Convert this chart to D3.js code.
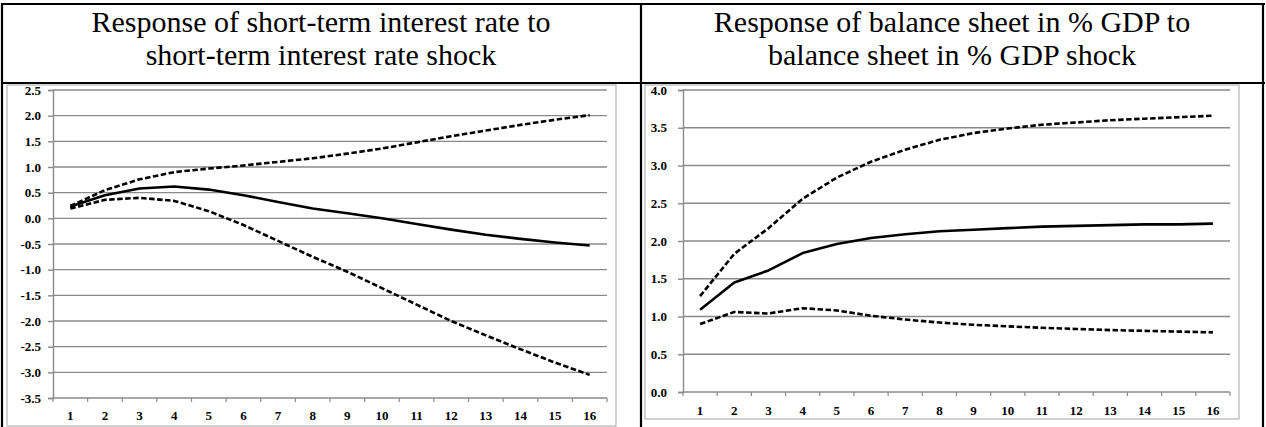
<!DOCTYPE html>
<html>
<head>
<meta charset="utf-8">
<script src="https://cdn.jsdelivr.net/npm/d3@7/dist/d3.min.js"></script>
<style>
  body { margin: 0; background: #fff; }
  svg { display: block; }
</style>
</head>
<body>
<svg id="chart" width="1266" height="427"></svg>
<script>
// Horizon (quarters after the shock)
const periods = [1, 2, 3, 4, 5, 6, 7, 8, 9, 10, 11, 12, 13, 14, 15, 16];

// Short-term interest rate response to its own shock
const rateMedian = [0.23, 0.45, 0.58, 0.62, 0.56, 0.45, 0.32, 0.19, 0.10, 0.00, -0.11, -0.22, -0.32, -0.40, -0.47, -0.53];
const rateUpper  = [0.24, 0.55, 0.76, 0.90, 0.97, 1.03, 1.10, 1.17, 1.26, 1.36, 1.48, 1.60, 1.71, 1.82, 1.92, 2.01];
const rateLower  = [0.19, 0.36, 0.40, 0.34, 0.14, -0.13, -0.44, -0.75, -1.04, -1.36, -1.68, -2.00, -2.28, -2.55, -2.81, -3.05];
const rateTicks  = [-3.5, -3.0, -2.5, -2.0, -1.5, -1.0, -0.5, 0.0, 0.5, 1.0, 1.5, 2.0, 2.5];

// Balance sheet (% of GDP) response to its own shock
const bsMedian = [1.09, 1.45, 1.61, 1.84, 1.96, 2.04, 2.09, 2.13, 2.15, 2.17, 2.19, 2.20, 2.21, 2.22, 2.22, 2.23];
const bsUpper  = [1.27, 1.83, 2.17, 2.56, 2.84, 3.05, 3.21, 3.34, 3.43, 3.49, 3.54, 3.57, 3.60, 3.62, 3.64, 3.66];
const bsLower  = [0.90, 1.06, 1.04, 1.11, 1.08, 1.01, 0.96, 0.92, 0.89, 0.87, 0.85, 0.835, 0.82, 0.81, 0.80, 0.79];
const bsTicks  = [0.0, 0.5, 1.0, 1.5, 2.0, 2.5, 3.0, 3.5, 4.0];

const titles = [
  ["Response of short-term interest rate to", "short-term interest rate shock"],
  ["Response of balance sheet in % GDP to", "balance sheet in % GDP shock"]
];

const svg = d3.select("#chart");
const serif = "'Liberation Serif', 'Times New Roman', serif";

// Table frame: title row and two chart cells
const frame = svg.append("g").attr("stroke", "#000").attr("stroke-width", 2.2).attr("fill", "none");
frame.append("line").attr("x1", 1).attr("x2", 1265).attr("y1", 4).attr("y2", 4);
frame.append("line").attr("x1", 1).attr("x2", 1265).attr("y1", 83).attr("y2", 83);
frame.append("line").attr("x1", 2).attr("x2", 2).attr("y1", 3).attr("y2", 427);
frame.append("line").attr("x1", 641).attr("x2", 641).attr("y1", 3).attr("y2", 427);
frame.append("line").attr("x1", 1263).attr("x2", 1263).attr("y1", 3).attr("y2", 427);

// Titles
const titleCenters = [321, 952];
titles.forEach((lines, i) => {
  const t = svg.append("text")
    .attr("text-anchor", "middle")
    .attr("font-family", serif)
    .attr("font-size", 30)
    .attr("fill", "#000");
  lines.forEach((s, j) => {
    t.append("tspan").attr("x", titleCenters[i]).attr("y", 32 + j * 33).text(s);
  });
});

function drawPanel(cfg) {
  const g = svg.append("g");

  // light outer chart border
  g.append("rect")
    .attr("x", cfg.box[0]).attr("y", cfg.box[1])
    .attr("width", cfg.box[2]).attr("height", cfg.box[3])
    .attr("fill", "#fff").attr("stroke", "#b4b4b4").attr("stroke-width", 1.2);

  const x = d3.scaleBand().domain(periods).range([cfg.x0, cfg.x1]).paddingInner(0).paddingOuter(0);
  const y = d3.scaleLinear().domain(cfg.domain).range([cfg.yBot, cfg.yTop]);

  // horizontal gridlines
  g.append("g")
    .selectAll("line")
    .data(cfg.ticks.filter(v => v !== cfg.domain[0]))
    .join("line")
    .attr("x1", cfg.x0).attr("x2", cfg.x1)
    .attr("y1", d => y(d)).attr("y2", d => y(d))
    .attr("stroke", "#8a8a8a").attr("stroke-width", 1.4);

  // y axis
  const yAxis = g.append("g")
    .attr("transform", `translate(${cfg.x0},0)`)
    .call(d3.axisLeft(y).tickValues(cfg.ticks).tickSize(5).tickPadding(cfg.yPad).tickFormat(d3.format(".1f")));
  yAxis.select(".domain").attr("stroke", "#8a8a8a").attr("stroke-width", 1.4);
  yAxis.selectAll(".tick line").attr("stroke", "#8a8a8a").attr("stroke-width", 1.4);
  yAxis.selectAll(".tick text")
    .attr("font-family", serif).attr("font-weight", "bold").attr("font-size", 13).attr("fill", "#000")
    .text(d => d3.format(".1f")(d).replace("−", "-"));

  // x axis with ticks between categories
  const xAxisG = g.append("g").attr("transform", `translate(0,${cfg.yBot})`);
  xAxisG.append("line")
    .attr("x1", cfg.x0).attr("x2", cfg.x1)
    .attr("stroke", "#8a8a8a").attr("stroke-width", 1.4);
  const bounds = periods.map(p => x(p)).concat([x(periods[periods.length - 1]) + x.bandwidth()]);
  xAxisG.selectAll("line.tk").data(bounds).join("line").attr("class", "tk")
    .attr("x1", d => d).attr("x2", d => d).attr("y1", 0).attr("y2", 4)
    .attr("stroke", "#8a8a8a").attr("stroke-width", 1.2);
  xAxisG.selectAll("text").data(periods).join("text")
    .attr("x", d => x(d) + x.bandwidth() / 2)
    .attr("y", cfg.labelY - cfg.yBot)
    .attr("dy", "0.35em")
    .attr("text-anchor", "middle")
    .attr("font-family", serif).attr("font-weight", "bold").attr("font-size", 13)
    .text(d => d);

  const line = d3.line()
    .x((d, i) => x(periods[i]) + x.bandwidth() / 2)
    .y(d => y(d));

  const series = [
    { v: cfg.upper, dash: "5.5,2.5" },
    { v: cfg.lower, dash: "5.5,2.5" },
    { v: cfg.median, dash: null }
  ];
  series.forEach(s => {
    g.append("path")
      .datum(s.v)
      .attr("d", line)
      .attr("fill", "none")
      .attr("stroke", "#000")
      .attr("stroke-width", 2.6)
      .attr("stroke-dasharray", s.dash)
      .attr("stroke-linejoin", "round");
  });
}

drawPanel({
  box: [7, 85, 609, 341],
  x0: 53, x1: 607, yTop: 90, yBot: 398,
  domain: [-3.5, 2.5], ticks: rateTicks, yPad: 7, labelY: 415,
  median: rateMedian, upper: rateUpper, lower: rateLower
});

drawPanel({
  box: [645, 85, 594, 334],
  x0: 683, x1: 1230, yTop: 90, yBot: 392,
  domain: [0, 4], ticks: bsTicks, yPad: 11, labelY: 410,
  median: bsMedian, upper: bsUpper, lower: bsLower
});
</script>
</body>
</html>
